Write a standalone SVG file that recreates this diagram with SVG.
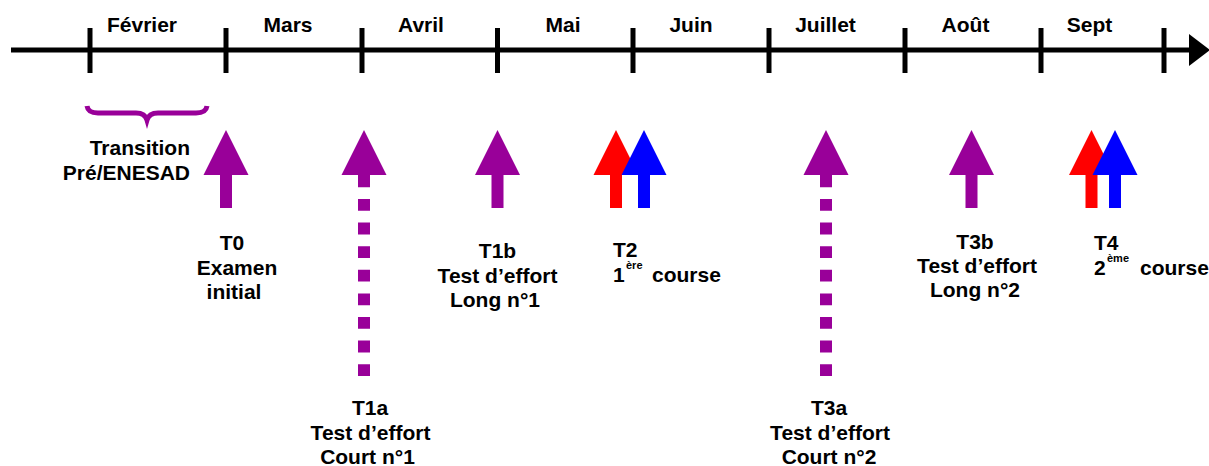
<svg xmlns="http://www.w3.org/2000/svg" width="1209" height="466" viewBox="0 0 1209 466">
<defs>
<style>
text{font-family:"Liberation Sans",Arial,sans-serif;font-weight:bold;font-size:21px;fill:#000}
.m{text-anchor:middle}
.sup{font-size:11px}
.tick{stroke:#000;stroke-width:5}
.p{fill:#990099}
.r{fill:#ff0000}
.b{fill:#0000ff}
</style>
<path id="arr" d="M0,0 L22.5,45 L6,45 L6,78 L-6,78 L-6,45 L-22.5,45 Z"/>
<path id="arrhead" d="M0,0 L22.5,45 L6,45 L6,56 L-6,56 L-6,45 L-22.5,45 Z"/>
</defs>
<rect width="1209" height="466" fill="#fff"/>

<g id="timeline">
<line x1="11" y1="50" x2="1192" y2="50" stroke="#000" stroke-width="5"/>
<path d="M1189,34 L1210,50 L1189,66 Z" fill="#000"/>
<line class="tick" x1="90" y1="28" x2="90" y2="73"/>
<line class="tick" x1="226" y1="28" x2="226" y2="73"/>
<line class="tick" x1="362" y1="28" x2="362" y2="73"/>
<line class="tick" x1="497.5" y1="28" x2="497.5" y2="73"/>
<line class="tick" x1="633" y1="28" x2="633" y2="73"/>
<line class="tick" x1="769" y1="28" x2="769" y2="73"/>
<line class="tick" x1="905" y1="28" x2="905" y2="73"/>
<line class="tick" x1="1041" y1="28" x2="1041" y2="73"/>
<line class="tick" x1="1164" y1="28" x2="1164" y2="73"/>
<text class="m" x="142" y="32">Février</text>
<text class="m" x="288" y="32">Mars</text>
<text class="m" x="421" y="32">Avril</text>
<text class="m" x="563" y="32">Mai</text>
<text class="m" x="691" y="32">Juin</text>
<text class="m" x="825.5" y="32">Juillet</text>
<text class="m" x="965.5" y="32">Août</text>
<text class="m" x="1089.5" y="32">Sept</text>
</g>

<g id="transition">
<path d="M87,106 Q88,113 98,113 L136,113 Q145,113 147,120 Q149,113 158,113 L196,113 Q206,113 207,106" fill="none" stroke="#990099" stroke-width="5"/>
<text x="190" y="155" text-anchor="end">Transition</text>
<text x="190" y="180" text-anchor="end">Pré/ENESAD</text>
</g>

<g id="connectors">
<g id="T0">
<use href="#arr" class="p" x="226" y="130"/>
<text class="m" x="232" y="250">T0</text>
<text class="m" x="237" y="275">Examen</text>
<text class="m" x="234" y="299">initial</text>
</g>

<g id="T1a">
<use href="#arrhead" class="p" x="364" y="130"/>
<line x1="364" y1="376" x2="364" y2="175" stroke="#990099" stroke-width="12" stroke-dasharray="11.8 11.8"/>
<text class="m" x="370" y="415">T1a</text>
<text class="m" x="370.5" y="440">Test d’effort</text>
<text class="m" x="367.5" y="464">Court n°1</text>
</g>

<g id="T1b">
<use href="#arr" class="p" x="497.5" y="130"/>
<text class="m" x="497.5" y="258">T1b</text>
<text class="m" x="497.5" y="283">Test d’effort</text>
<text class="m" x="495" y="307">Long n°1</text>
</g>

<g id="T2">
<use href="#arr" class="r" x="616" y="130"/>
<use href="#arr" class="b" x="644" y="130"/>
<text x="613" y="257">T2</text>
<text x="613" y="282">1</text>
<text class="sup" x="626" y="269">ère</text>
<text x="652" y="282">course</text>
</g>

<g id="T3a">
<use href="#arrhead" class="p" x="826" y="130"/>
<line x1="826" y1="376" x2="826" y2="175" stroke="#990099" stroke-width="12" stroke-dasharray="11.8 11.8"/>
<text class="m" x="829" y="415">T3a</text>
<text class="m" x="830" y="440">Test d’effort</text>
<text class="m" x="829" y="464">Court n°2</text>
</g>

<g id="T3b">
<use href="#arr" class="p" x="971.5" y="130"/>
<text class="m" x="975" y="249">T3b</text>
<text class="m" x="977" y="273">Test d’effort</text>
<text class="m" x="975" y="297">Long n°2</text>
</g>

<g id="T4">
<use href="#arr" class="r" x="1091.5" y="130"/>
<use href="#arr" class="b" x="1115" y="130"/>
<text x="1094" y="250">T4</text>
<text x="1094" y="275">2</text>
<text class="sup" x="1107" y="262">ème</text>
<text x="1140" y="275">course</text>
</g>
</g>
</svg>
